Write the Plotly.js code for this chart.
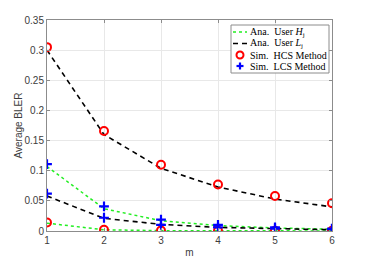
<!DOCTYPE html>
<html>
<head>
<meta charset="utf-8">
<script src="https://cdn.plot.ly/plotly-3.0.1.min.js"></script>
<style>html,body{margin:0;padding:0;background:#fff;}#chart{width:367px;height:260px;}</style>
</head>
<body>
<div id="chart"></div>
<script>
var m = [1, 2, 3, 4, 5, 6];
var anaH_upper = [0.107, 0.037, 0.017, 0.009, 0.005, 0.003];
var anaH_lower = [0.013, 0.002, 0.0006, 0.0003, 0.0002, 0.0001];
var anaL_upper = [0.300, 0.160, 0.104, 0.073, 0.053, 0.040];
var anaL_lower = [0.058, 0.021, 0.011, 0.006, 0.004, 0.002];
var simHCS_upper = [0.305, 0.166, 0.110, 0.077, 0.058, 0.046];
var simHCS_lower = [0.014, 0.002, 0.0008, 0.0005, 0.0004, 0.0003];
var simLCS_upper = [0.111, 0.041, 0.019, 0.010, 0.006, 0.004];
var simLCS_lower = [0.062, 0.022, 0.010, 0.006, 0.004, 0.003];
var yTicks = [0, 0.05, 0.1, 0.15, 0.2, 0.25, 0.3, 0.35];
var yTickText = ['0', '0.05', '0.1', '0.15', '0.2', '0.25', '0.3', '0.35'];
var legendNames = ['Ana.  User <i>H</i><sub>j</sub>', 'Ana.  User <i>L</i><sub>j</sub>', 'Sim.  HCS Method', 'Sim.  LCS Method'];

var W = 367, H = 260;
var M = {l: 47, r: 35, t: 20, b: 29};
var PW = W - M.l - M.r, PH = H - M.t - M.b;
function px(x) { return (x - M.l) / PW; }
function py(y) { return (H - M.b - y) / PH; }

var greenC = '#22ee22';
var green = {color: greenC, width: 1.5, dash: 'dot'};
var black = {color: '#000000', width: 1.6, dash: '5px,4px'};
var traces = [
  {x: m, y: anaH_upper, mode: 'lines', line: green, name: legendNames[0]},
  {x: m, y: anaH_lower, mode: 'lines', line: green, name: legendNames[0]},
  {x: m, y: anaL_upper, mode: 'lines', line: black, name: legendNames[1]},
  {x: m, y: anaL_lower, mode: 'lines', line: black, name: legendNames[1]},
  {x: m.concat(m), y: simHCS_upper.concat(simHCS_lower), mode: 'markers', name: legendNames[2],
   marker: {symbol: 'circle-open', size: 8, color: '#ff0000', line: {width: 2, color: '#ff0000'}}},
  {x: m.concat(m), y: simLCS_upper.concat(simLCS_lower), mode: 'markers', name: legendNames[3],
   marker: {symbol: 'cross-thin-open', size: 7, color: '#0000ff', line: {width: 2.2, color: '#0000ff'}}}
];

// custom compact legend (box, samples, text)
var LB = {x0: 231, x1: 329, y0: 25, y1: 73};
var rows = [32, 43.5, 55, 66];
var sx0 = 233, sx1 = 247, tx = 248;
var shapes = [
  {type: 'rect', xref: 'paper', yref: 'paper', x0: px(LB.x0), x1: px(LB.x1), y0: py(LB.y1), y1: py(LB.y0),
   fillcolor: '#ffffff', line: {color: '#8c8c8c', width: 1}, layer: 'above'},
  {type: 'line', xref: 'paper', yref: 'paper', x0: px(sx0), x1: px(sx1), y0: py(rows[0]), y1: py(rows[0]),
   line: {color: greenC, width: 1.5, dash: 'dot'}, layer: 'above'},
  {type: 'line', xref: 'paper', yref: 'paper', x0: px(sx0), x1: px(sx1), y0: py(rows[1]), y1: py(rows[1]),
   line: {color: '#000000', width: 1.6, dash: '5px,4px'}, layer: 'above'},
  {type: 'circle', xref: 'paper', yref: 'paper', x0: px(236.5), x1: px(243.5), y0: py(rows[2] + 3.5), y1: py(rows[2] - 3.5),
   line: {color: '#ff0000', width: 2}, layer: 'above'},
  {type: 'line', xref: 'paper', yref: 'paper', x0: px(236.5), x1: px(243.5), y0: py(rows[3]), y1: py(rows[3]),
   line: {color: '#0000ff', width: 2.2}, layer: 'above'},
  {type: 'line', xref: 'paper', yref: 'paper', x0: px(240), x1: px(240), y0: py(rows[3] - 3.5), y1: py(rows[3] + 3.5),
   line: {color: '#0000ff', width: 2.2}, layer: 'above'}
];
var annotations = legendNames.map(function (t, i) {
  return {text: t, xref: 'paper', yref: 'paper', x: px(tx), y: py(rows[i]), xanchor: 'left', yanchor: 'middle',
    showarrow: false, font: {family: 'Liberation Serif, Times New Roman, serif', size: 10, color: '#000000'}};
});

var axisCommon = {
  showline: true, mirror: 'ticks', linecolor: '#8c8c8c', linewidth: 1,
  showgrid: true, gridcolor: '#e8e8e8', gridwidth: 1,
  ticks: 'inside', ticklen: 3, tickcolor: '#8c8c8c',
  zeroline: false,
  tickfont: {family: 'Liberation Sans, Arial, sans-serif', size: 10, color: '#3c3c3c'}
};

var layout = {
  width: W, height: H,
  margin: M,
  paper_bgcolor: '#ffffff', plot_bgcolor: '#ffffff',
  showlegend: false,
  shapes: shapes,
  annotations: annotations,
  xaxis: Object.assign({}, axisCommon, {
    range: [1, 6], tickvals: m, ticktext: m.map(String),
    title: {text: 'm', font: {family: 'Liberation Sans, Arial, sans-serif', size: 10, color: '#3c3c3c'}, standoff: 3}
  }),
  yaxis: Object.assign({}, axisCommon, {
    range: [0, 0.35], tickvals: yTicks, ticktext: yTickText,
    title: {text: 'Average BLER', font: {family: 'Liberation Sans, Arial, sans-serif', size: 10, color: '#3c3c3c'}, standoff: 0}
  })
};

Plotly.newPlot('chart', traces, layout, {displayModeBar: false, staticPlot: true});
</script>
</body>
</html>
